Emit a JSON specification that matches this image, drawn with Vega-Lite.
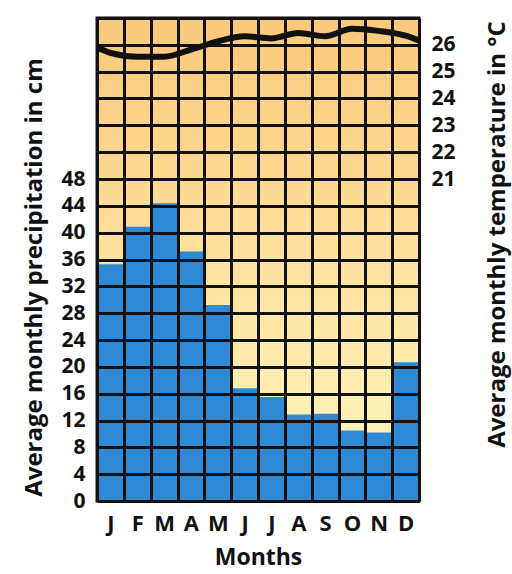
{
  "$schema": "https://vega.github.io/schema/vega-lite/v6.json",
  "width": 322,
  "height": 483,
  "autosize": "none",
  "padding": {"left": 97, "top": 18, "right": 93, "bottom": 73},
  "background": "white",
  "config": {
    "font": "Open Sans",
    "view": {"stroke": "#111111", "strokeWidth": 3},
    "axis": {
      "labelFont": "Open Sans", "labelFontWeight": "bold", "labelFontSize": 21, "labelColor": "#111111",
      "titleFont": "Open Sans", "titleFontWeight": "bold", "titleFontSize": 24, "titleColor": "#111111",
      "ticks": false, "domain": false, "gridColor": "#111111", "gridWidth": 3, "gridOpacity": 1
    }
  },
  "datasets": {
    "precip": [
      {"month": "Jan", "precip": 35.3},
      {"month": "Feb", "precip": 40.9},
      {"month": "Mar", "precip": 44.4},
      {"month": "Apr", "precip": 37.2},
      {"month": "May", "precip": 29.2},
      {"month": "Jun", "precip": 16.8},
      {"month": "Jul", "precip": 15.5},
      {"month": "Aug", "precip": 12.9},
      {"month": "Sep", "precip": 13.0},
      {"month": "Oct", "precip": 10.5},
      {"month": "Nov", "precip": 10.2},
      {"month": "Dec", "precip": 20.7}
    ],
    "temp": [
      {"pos": 0, "temp": 25.9},
      {"pos": 0.5, "temp": 25.7},
      {"pos": 1.5, "temp": 25.56},
      {"pos": 2.5, "temp": 25.56},
      {"pos": 3.5, "temp": 25.82},
      {"pos": 4.5, "temp": 26.13},
      {"pos": 5.5, "temp": 26.32},
      {"pos": 6.5, "temp": 26.24},
      {"pos": 7.5, "temp": 26.44},
      {"pos": 8.5, "temp": 26.32},
      {"pos": 9.5, "temp": 26.6},
      {"pos": 10.5, "temp": 26.52},
      {"pos": 11.5, "temp": 26.34},
      {"pos": 12, "temp": 26.16}
    ]
  },
  "layer": [
    {
      "data": {"name": "precip"},
      "encoding": {
        "x": {
          "field": "month", "type": "ordinal", "sort": null,
          "scale": {"paddingInner": 0, "paddingOuter": 0},
          "axis": {"title": "Months", "titleFontSize": 23, "labelFontSize": 22, "labelExpr": "substring(datum.label, 0, 1)", "labelAngle": 0, "tickBand": "extent", "grid": true, "zindex": 1, "labelPadding": 12, "titlePadding": 12}
        }
      },
      "layer": [
        {
          "mark": {"type": "bar", "color": {"gradient": "linear", "x1": 0, "y1": 0, "x2": 0, "y2": 1, "stops": [{"offset": 0, "color": "#FAC87A"}, {"offset": 0.5, "color": "#FEE19E"}, {"offset": 1, "color": "#FFF8BF"}]}},
          "encoding": {
            "y": {"datum": 72, "type": "quantitative", "scale": {"domain": [0, 72], "nice": false, "zero": true},
              "axis": {"title": "Average monthly precipitation in cm", "titleY": 259, "values": [0,4,8,12,16,20,24,28,32,36,40,44,48,52,56,60,64,68,72], "labelExpr": "datum.value <= 48 ? datum.label : ''", "grid": true, "zindex": 1, "labelPadding": 12, "titlePadding": 14}},
            "y2": {"datum": 0}
          }
        },
        {
          "mark": {"type": "bar", "color": "#2F8AD6"},
          "encoding": {
            "y": {"field": "precip", "type": "quantitative", "scale": {"domain": [0, 72], "nice": false, "zero": true},
              "axis": {"title": "Average monthly precipitation in cm", "titleY": 259, "values": [0,4,8,12,16,20,24,28,32,36,40,44,48,52,56,60,64,68,72], "labelExpr": "datum.value <= 48 ? datum.label : ''", "grid": true, "zindex": 1, "labelPadding": 12, "titlePadding": 14}}
          }
        }
      ]
    },
    {
      "data": {"name": "temp"},
      "mark": {"type": "line", "color": "#111111", "strokeWidth": 6, "interpolate": "monotone", "clip": true},
      "encoding": {
        "x": {"field": "pos", "type": "quantitative", "scale": {"domain": [0, 12], "nice": false, "zero": false}, "axis": null},
        "y": {"field": "temp", "type": "quantitative", "scale": {"domain": [9, 27], "nice": false, "zero": false},
          "axis": {"orient": "right", "values": [21, 22, 23, 24, 25, 26], "grid": false, "zindex": 1, "title": "Average monthly temperature in °C", "titleY": 216, "titleAngle": 270, "labelPadding": 12, "titlePadding": 54}}
      }
    }
  ],
  "resolve": {"scale": {"x": "independent", "y": "independent"}}
}
